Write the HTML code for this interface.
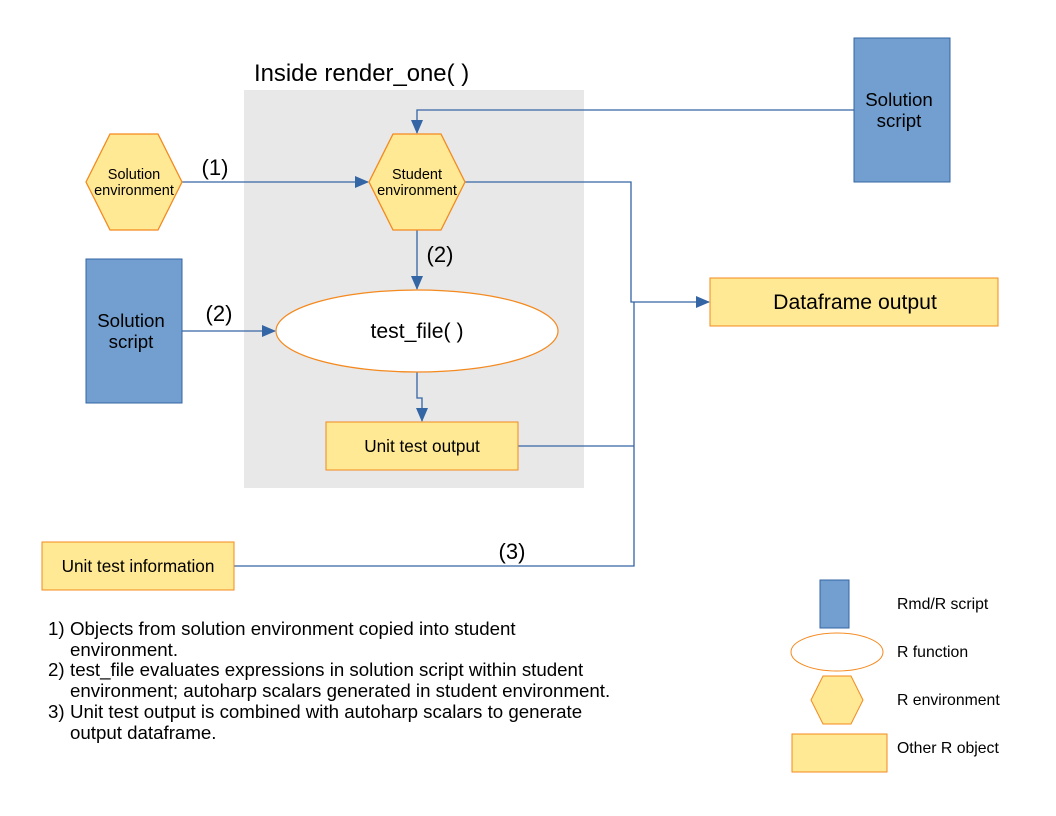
<!DOCTYPE html>
<html><head><style>body{margin:0;background:#fff}svg{display:block}text{font-family:"Liberation Sans",sans-serif;fill:#000}</style></head><body>
<svg width="1056" height="816" viewBox="0 0 1056 816" xmlns="http://www.w3.org/2000/svg">
<defs><marker id="a" markerWidth="14" markerHeight="12" refX="13" refY="6" orient="auto" markerUnits="userSpaceOnUse"><path d="M0,0 L14,6 L0,12 Z" fill="#3465a4"/></marker></defs>
<rect x="244" y="90" width="340" height="398" fill="#e8e8e8"/>
<text x="254" y="81" font-size="23.9">Inside render_one( )</text>
<g stroke="#3465a4" stroke-width="1.3" fill="none">
<path d="M182,182 H368" marker-end="url(#a)"/>
<path d="M854,110 H417 V133" marker-end="url(#a)"/>
<path d="M465,182 H631 V302 H709" marker-end="url(#a)"/>
<path d="M417,230 V289" marker-end="url(#a)"/>
<path d="M182,331 H275" marker-end="url(#a)"/>
<path d="M417,372 V398 H422 V421" marker-end="url(#a)"/>
<path d="M518,446 H634 M634,302 V566 H234"/>
</g>
<polygon points="86,182 110,134 158,134 182,182 158,230 110,230" fill="#ffe994" stroke="#f4891e" stroke-width="1.3"/>
<text x="134" y="179" font-size="14.5" text-anchor="middle">Solution</text>
<text x="134" y="195" font-size="14.5" text-anchor="middle">environment</text>
<polygon points="369,182 393,134 441,134 465,182 441,230 393,230" fill="#ffe994" stroke="#f4891e" stroke-width="1.3"/>
<text x="417" y="179" font-size="14.5" text-anchor="middle">Student</text>
<text x="417" y="195" font-size="14.5" text-anchor="middle">environment</text>
<text x="215" y="175" font-size="22" text-anchor="middle">(1)</text>
<text x="440" y="262" font-size="22" text-anchor="middle">(2)</text>
<text x="219" y="321" font-size="22" text-anchor="middle">(2)</text>
<text x="512" y="559" font-size="22" text-anchor="middle">(3)</text>
<rect x="854" y="38" width="96" height="144" fill="#729fcf" stroke="#3465a4"/>
<text x="899" y="106" font-size="18.7" text-anchor="middle">Solution</text>
<text x="899" y="127" font-size="18.7" text-anchor="middle">script</text>
<rect x="86" y="259" width="96" height="144" fill="#729fcf" stroke="#3465a4"/>
<text x="131" y="327" font-size="18.7" text-anchor="middle">Solution</text>
<text x="131" y="348" font-size="18.7" text-anchor="middle">script</text>
<rect x="710" y="278" width="288" height="48" fill="#ffe994" stroke="#f4891e"/>
<text x="855" y="309" font-size="21.2" text-anchor="middle">Dataframe output</text>
<ellipse cx="417" cy="331" rx="141" ry="41" fill="#fff" stroke="#f4891e" stroke-width="1.2"/>
<text x="417" y="338" font-size="21.2" text-anchor="middle">test_file( )</text>
<rect x="326" y="422" width="192" height="48" fill="#ffe994" stroke="#f4891e"/>
<text x="422" y="452" font-size="17.2" text-anchor="middle">Unit test output</text>
<rect x="42" y="542" width="192" height="48" fill="#ffe994" stroke="#f4891e"/>
<text x="138" y="572" font-size="17.2" text-anchor="middle">Unit test information</text>
<g font-size="18.7">
<text x="48" y="635">1)</text><text x="70" y="635">Objects from solution environment copied into student</text>
<text x="70" y="656">environment.</text>
<text x="48" y="676">2)</text><text x="70" y="676">test_file evaluates expressions in solution script within student</text>
<text x="70" y="697">environment; autoharp scalars generated in student environment.</text>
<text x="48" y="718">3)</text><text x="70" y="718">Unit test output is combined with autoharp scalars to generate</text>
<text x="70" y="739">output dataframe.</text>
</g>
<rect x="820" y="580" width="29" height="48" fill="#729fcf" stroke="#3465a4"/>
<ellipse cx="837" cy="652" rx="46" ry="19" fill="#fff" stroke="#f4891e"/>
<polygon points="811,700 823,676 851,676 863,700 851,724 823,724" fill="#ffe994" stroke="#f4891e"/>
<rect x="792" y="734" width="95" height="38" fill="#ffe994" stroke="#f4891e"/>
<g font-size="15.8">
<text x="897" y="609">Rmd/R script</text>
<text x="897" y="657">R function</text>
<text x="897" y="705">R environment</text>
<text x="897" y="753">Other R object</text>
</g>
</svg>
</body></html>
